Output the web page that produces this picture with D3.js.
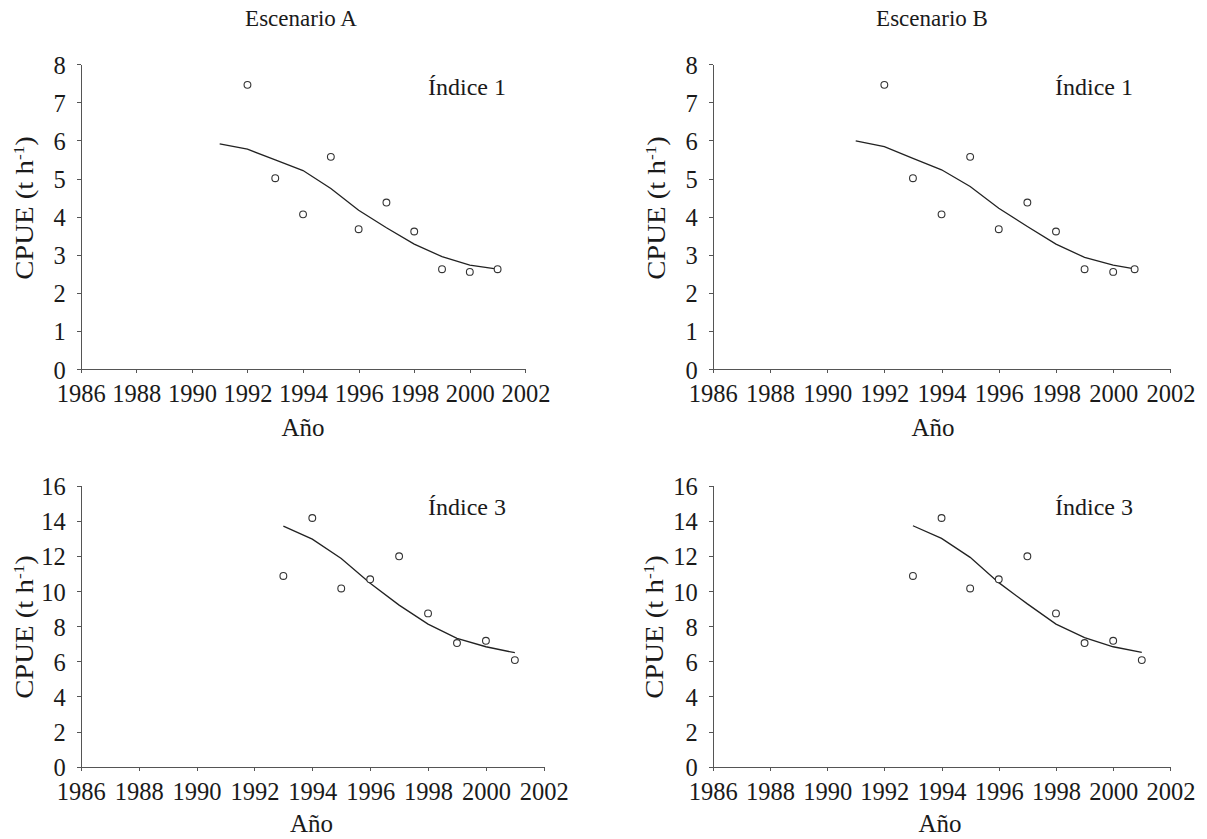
<!DOCTYPE html>
<html>
<head>
<meta charset="utf-8">
<script src="https://cdn.jsdelivr.net/npm/d3@7"></script>
<style>
  body { margin: 0; background: #fff; }
  svg { display: block; }
  .axis path, .axis line { stroke: #555; stroke-width: 1; shape-rendering: crispEdges; }
</style>
</head>
<body>
<script>
var years1 = [1992, 1993, 1994, 1995, 1996, 1997, 1998, 1999, 2000, 2001];
var yearsB1 = [1992, 1993, 1994, 1995, 1996, 1997, 1998, 1999, 2000, 2000.75];
var obs1 = [7.46, 5.01, 4.06, 5.57, 3.67, 4.37, 3.61, 2.62, 2.55, 2.62];
var fitYears1 = [1991, 1992, 1993, 1994, 1995, 1996, 1997, 1998, 1999, 2000, 2001];
var fitYearsB1 = [1991, 1992, 1993, 1994, 1995, 1996, 1997, 1998, 1999, 2000, 2000.75];
var fitA1 = [5.91, 5.77, 5.49, 5.21, 4.74, 4.17, 3.71, 3.28, 2.95, 2.73, 2.62];
var fitB1 = [5.99, 5.84, 5.53, 5.23, 4.79, 4.22, 3.74, 3.28, 2.93, 2.73, 2.63];

var years3 = [1993, 1994, 1995, 1996, 1997, 1998, 1999, 2000, 2001];
var obs3 = [10.86, 14.16, 10.15, 10.67, 11.98, 8.73, 7.04, 7.17, 6.07];
var fitA3 = [13.70, 12.96, 11.86, 10.44, 9.20, 8.12, 7.31, 6.83, 6.49];
var fitB3 = [13.72, 13.00, 11.92, 10.48, 9.27, 8.12, 7.35, 6.83, 6.51];

var xTicks = d3.range(1986, 2003, 2);
var yTicks1 = d3.range(0, 9, 1);
var yTicks3 = d3.range(0, 17, 2);

var panels = [
  { x0: 80.7, x1: 525.4, yT: 64.3, yB: 369, ymax: 8, yticks: yTicks1, obsX: years1, obs: obs1, fitX: fitYears1, fit: fitA1,
    label: "Índice 1", lx: 428, ly: 95, ylx: 33, yly: 208, ax: 303, ay: 436 },
  { x0: 712.7, x1: 1170.4, yT: 64.3, yB: 369, ymax: 8, yticks: yTicks1, obsX: yearsB1, obs: obs1, fitX: fitYearsB1, fit: fitB1,
    label: "Índice 1", lx: 1055, ly: 95, ylx: 665, yly: 208, ax: 933, ay: 436 },
  { x0: 80.8, x1: 543.8, yT: 485.7, yB: 766.7, ymax: 16, yticks: yTicks3, obsX: years3, obs: obs3, fitX: years3, fit: fitA3,
    label: "Índice 3", lx: 428, ly: 515, ylx: 33, yly: 627, ax: 311.5, ay: 832 },
  { x0: 712.7, x1: 1170.4, yT: 485.7, yB: 766.7, ymax: 16, yticks: yTicks3, obsX: years3, obs: obs3, fitX: years3, fit: fitB3,
    label: "Índice 3", lx: 1055, ly: 515, ylx: 663, yly: 627, ax: 940, ay: 832 }
];

var serif = '"Liberation Serif", "Times New Roman", Times, serif';
var tickFont = 24.5;

var svg = d3.select("body").append("svg")
  .attr("width", 1207)
  .attr("height", 839);

function label(x, y, size, txt) {
  return svg.append("text")
    .attr("x", x).attr("y", y)
    .style("font-family", serif)
    .style("font-size", size + "px")
    .style("fill", "#1a1a1a")
    .text(txt);
}

label(301, 26, 23, "Escenario A").attr("text-anchor", "middle");
label(932, 26, 23, "Escenario B").attr("text-anchor", "middle");

panels.forEach(function (p) {
  var x = d3.scaleLinear().domain([1986, 2002]).range([p.x0, p.x1]);
  var y = d3.scaleLinear().domain([0, p.ymax]).range([p.yB, p.yT]);

  var xAxis = svg.append("g")
    .attr("class", "axis")
    .attr("transform", "translate(0," + p.yB + ")")
    .call(d3.axisBottom(x).tickValues(xTicks).tickSize(4).tickSizeOuter(0).tickFormat(d3.format("d")))
    .attr("font-family", null);
  xAxis.selectAll("text")
    .style("font-family", serif)
    .style("font-size", tickFont + "px")
    .style("fill", "#1a1a1a")
    .attr("y", 33)
    .attr("dy", 0);

  var yAxis = svg.append("g")
    .attr("class", "axis")
    .attr("transform", "translate(" + p.x0 + ",0)")
    .call(d3.axisLeft(y).tickValues(p.yticks).tickSize(4).tickSizeOuter(0).tickFormat(d3.format("d")))
    .attr("font-family", null);
  yAxis.selectAll("text")
    .style("font-family", serif)
    .style("font-size", tickFont + "px")
    .style("fill", "#1a1a1a")
    .attr("x", -15)
    .attr("y", 9)
    .attr("dy", 0);

  // fitted line
  var line = d3.line()
    .x(function (d, i) { return x(p.fitX[i]); })
    .y(function (d) { return y(d); });
  svg.append("path")
    .datum(p.fit)
    .attr("fill", "none")
    .attr("stroke", "#222")
    .attr("stroke-width", 1.3)
    .attr("d", line);

  // observed points
  svg.append("g").selectAll("circle")
    .data(p.obs)
    .enter()
    .append("circle")
    .attr("cx", function (d, i) { return x(p.obsX[i]); })
    .attr("cy", function (d) { return y(d); })
    .attr("r", 3.4)
    .attr("fill", "#fff")
    .attr("stroke", "#333")
    .attr("stroke-width", 1.1);

  label(p.lx, p.ly, 24, p.label);
  label(p.ax, p.ay, 25, "Año").attr("text-anchor", "middle");

  var yl = svg.append("text")
    .attr("transform", "translate(" + p.ylx + "," + p.yly + ") scale(1,1.15) rotate(-90)")
    .attr("text-anchor", "middle")
    .style("font-family", serif)
    .style("font-size", "25px")
    .style("fill", "#1a1a1a");
  yl.append("tspan").text("CPUE (t h");
  yl.append("tspan").attr("dy", -9).style("font-size", "15px").text("-1");
  yl.append("tspan").attr("dy", 9).text(")");
});
</script>
</body>
</html>
